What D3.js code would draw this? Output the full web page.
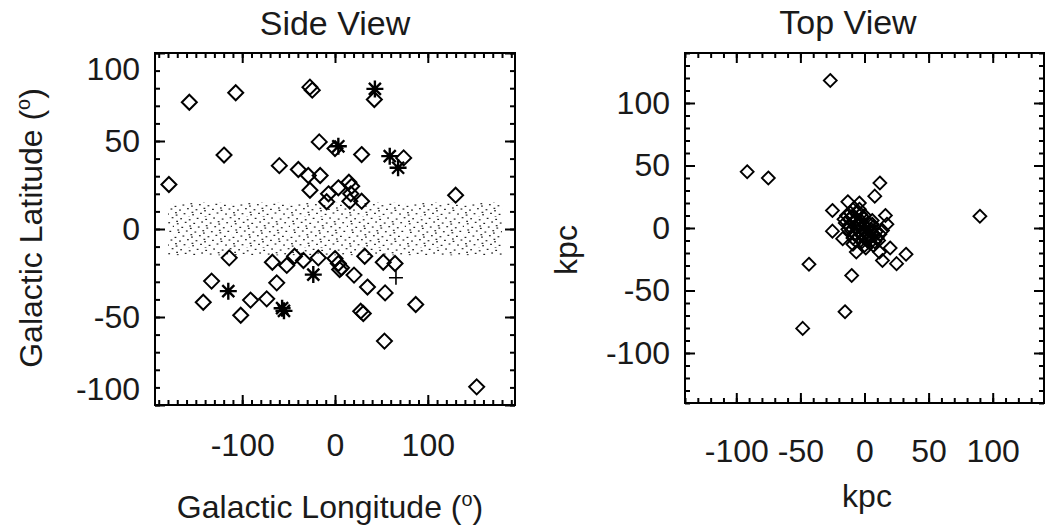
<!DOCTYPE html>
<html>
<head>
<meta charset="utf-8">
<script src="https://cdn.jsdelivr.net/npm/d3@7"></script>
<style>
  body { margin: 0; background: #fff; }
  svg text { font-family: "Liberation Sans", Arial, sans-serif; fill: #1a1a1a; }
</style>
</head>
<body>
<script>
// side view: galactic longitude / latitude in degrees
const sideDiamondLon = [-179, -157, -107, -27, -24.5, 42.4, -17, 0, 28.7, 74, -119.6, -60, -39.5, -28.8, -16, -27, -7, -9, 3.6, 15, 18, 17, 16, 28.7, 130,
  -114, -67.5, -52, -43.6, -34, -18, 0, 3.6, 7, 5, 20.5, 32, 52, 64.7, -62.8, -133, -142, -91, -73.6, -101.6, 35, 54, 87, 27.7, 30.5, 53.3, 152.7];
const sideDiamondLat = [25.3, 72, 77.4, 80.6, 78.9, 73.6, 49.5, 45.7, 42.3, 40.4, 42, 36, 33.8, 30.4, 30.4, 22, 20, 15.5, 23.4, 26.6, 24.3, 20, 15.8, 15.8, 19.2,
  -16.4, -18.9, -20.7, -15.5, -17.9, -16.4, -16.8, -19.6, -22, -23, -26.2, -15.5, -18.9, -19.6, -30.6, -29.6, -41.6, -40.4, -39.7, -49, -33, -36.3, -42.9, -46.7, -48, -63.7, -89.7];
const sideStarLon = [43, 3.6, 59, 68, -23.4, -115, -57, -55];
const sideStarLat = [79.6, 47, 41.4, 34.8, -25.9, -35.3, -45, -46.5];
const sidePlusLon = [65.7];
const sidePlusLat = [-27.7];
// stellar disk band
const diskLon = [-180, 180];
const diskLat = [-15, 15];

// top view: kpc
const topX = [-26.7, -91.5, -75, 12, 8, -13, -4, -8, -25, 16.3, 90, 17.5, -25, 32.4, 20, 25, 14, -43.3, -10, -15.2, -48.2, -17, -6.4, 11.7,
  -14, -12, -10, -8, -6, -4, -2, 0, 2, 4, 6, 8, 10, -12, -10, -8, -6, -4, -2, 0, 2, 4, -1, 1, 3, 5, 7, 9, -3, -5, -7, -9, 3, 6, -15, 12, -3, 0, -6, 8, 0,
  -16, -11, -7, -1, 5, 11, 14, -13, -9, 1, 6, -2, 3, 7, -4];
const topY = [118, 45, 40, 36, 25.5, 21, 20, 16, 14, 10, 9.4, 3, -2.5, -21, -16, -28.5, -26, -29, -38, -67, -80.3, -8.5, -19.2, -19.2,
  10, 7, 9, 5, 7, 3, 5, 2, 0, -2, -4, -6, -8, 2, -2, -5, 0, -3, -6, -8, -10, -12, -2, -4, -6, -1, 1, -3, 0, -7, -10, -13, 4, 3, 4, -5, 11, 10, 12, -11, -14,
  7, 12, 1, 8, -7, -10, -2, -1, -8, -16, 6, -11, -9, -14, 15];

const sideLonMajor = [-100, 0, 100];
const sideLatMajor = [-100, -50, 0, 50, 100];
const topMajor = [-100, -50, 0, 50, 100];

let w = 1045;
let h = 527;
let svg = d3.select('body').append('svg')
  .attr('width', w)
  .attr('height', h);

let fs = 32;

// scales
let sx = d3.scaleLinear().domain([-194, 194]).range([155, 515]);
let sy = d3.scaleLinear().domain([-100, 100]).range([405, 53]);
let tx = d3.scaleLinear().domain([-140, 140]).range([685, 1044]);
let ty = d3.scaleLinear().domain([-140, 140]).range([403, 53]);

// inward ticks on all four sides, like IDL
const frame = (p) => {
  let g = svg.append('g');
  const ax = (fn, scale, vals, size, tr, pad, labels) => {
    let a = g.append('g').attr('transform', tr)
      .call(fn(scale).tickValues(vals).tickSize(-size).tickPadding(pad)
        .tickFormat(labels ? d => String(d) : ''));
    a.select('.domain').remove();
    a.attr('font-size', null).attr('font-family', null);
    a.selectAll('line').attr('stroke', '#000').attr('stroke-width', 2);
    a.selectAll('text').attr('font-size', fs);
    return a;
  };
  let [x0, x1] = p.x.range();
  let [y1, y0] = p.y.range();
  [[p.xMinor, 5], [p.xMajor, 10]].forEach(([v, s]) => {
    ax(d3.axisBottom, p.x, v, s, `translate(0,${y1})`, p.xPad, s === 10);
    ax(d3.axisTop, p.x, v, s, `translate(0,${y0})`, 0, false);
  });
  let yl;
  [[p.yMinor, 5], [p.yMajor, 10]].forEach(([v, s]) => {
    let a = ax(d3.axisLeft, p.y, v, s, `translate(${x0},0)`, p.yPad, s === 10);
    if (s === 10) yl = a;
    ax(d3.axisRight, p.y, v, s, `translate(${x1},0)`, 0, false);
  });
  g.append('rect')
    .attr('x', x0).attr('y', y0)
    .attr('width', x1 - x0).attr('height', y1 - y0)
    .attr('fill', 'none').attr('stroke', '#000').attr('stroke-width', 2);
  return yl;
};

// disk band texture
let pat = svg.append('defs').append('pattern')
  .attr('id', 'disk')
  .attr('patternUnits', 'userSpaceOnUse')
  .attr('width', 58).attr('height', 31);
d3.range(64).forEach(i => {
  pat.append('rect')
    .attr('x', ((0.5 + i * 0.7548777) % 1) * 58)
    .attr('y', ((0.5 + i * 0.5698403) % 1) * 31)
    .attr('width', 1.8).attr('height', 1.2)
    .attr('fill', '#222');
});

svg.append('rect')
  .attr('x', sx(diskLon[0]))
  .attr('y', sy(diskLat[1]))
  .attr('width', sx(diskLon[1]) - sx(diskLon[0]))
  .attr('height', sy(diskLat[0]) - sy(diskLat[1]))
  .attr('fill', 'url(#disk)');

const diamond = r => `M0,${-r}L${r},0L0,${r}L${-r},0Z`;
const star = r => {
  let d = r * Math.SQRT1_2;
  return `M0,${-r}V${r}M${-r},0H${r}M${-d},${-d}L${d},${d}M${-d},${d}L${d},${-d}`;
};
const plus = r => `M0,${-r}V${r}M${-r},0H${r}`;

const plotMarks = (xs, ys, xScale, yScale, path, sw) => {
  svg.append('g').selectAll('path')
    .data(xs.map((v, i) => [v, ys[i]]))
    .enter()
      .append('path')
      .attr('transform', d => `translate(${xScale(d[0])},${yScale(d[1])})`)
      .attr('d', path)
      .attr('fill', 'none')
      .attr('stroke', '#000')
      .attr('stroke-width', sw);
};

plotMarks(sideDiamondLon, sideDiamondLat, sx, sy, diamond(7.5), 2);
plotMarks(sideStarLon, sideStarLat, sx, sy, star(8.5), 2.4);
plotMarks(sidePlusLon, sidePlusLat, sx, sy, plus(7), 1.6);
plotMarks(topX, topY, tx, ty, diamond(6.5), 1.8);

let leftY = frame({
  x: sx, y: sy,
  xMajor: sideLonMajor, xMinor: d3.range(-190, 191, 10),
  yMajor: sideLatMajor, yMinor: d3.range(-100, 101, 10),
  xPad: 28, yPad: 15
});
// the end labels sit a little inside the frame in the original
leftY.selectAll('.tick text')
  .filter(d => Math.abs(d) === 100)
  .attr('y', d => d > 0 ? 16 : -16);

frame({
  x: tx, y: ty,
  xMajor: topMajor, xMinor: d3.range(-140, 141, 10),
  yMajor: topMajor, yMinor: d3.range(-140, 141, 10),
  xPad: 36, yPad: 15
});

// titles and axis labels
const label = (txt, x, y, rot, size) => {
  let t = svg.append('text')
    .attr('text-anchor', 'middle')
    .attr('font-size', size || fs)
    .attr('transform', `translate(${x},${y})` + (rot ? ' rotate(-90)' : ''));
  t.append('tspan').text(txt);
  return t;
};
const degLabel = (txt, x, y, rot) => {
  let t = label(txt + ' (', x, y, rot);
  t.append('tspan').attr('font-size', fs * 0.62).attr('dy', -fs * 0.38).text('o');
  t.append('tspan').attr('dy', fs * 0.38).text(')');
};

label('Side View', 335, 35, false, 34);
label('Top View', 848, 34, false, 34);
degLabel('Galactic Longitude', 330, 518);
degLabel('Galactic Latitude', 42, 228, true);
label('kpc', 867, 507);
label('kpc', 577, 250, true);
</script>
</body>
</html>
